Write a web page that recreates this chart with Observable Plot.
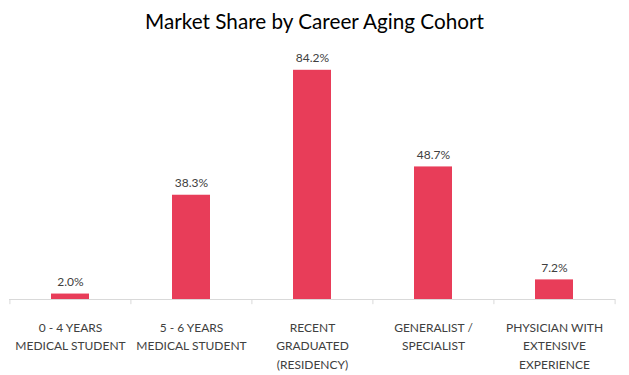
<!DOCTYPE html>
<html>
<head>
<meta charset="utf-8">
<script src="https://cdn.jsdelivr.net/npm/d3@7"></script>
<script src="https://cdn.jsdelivr.net/npm/@observablehq/plot@0.6"></script>
<style>
  html, body { margin: 0; padding: 0; background: #fff; }
  #wrap { width: 629px; height: 375px; overflow: hidden; font-family: Lato, "Open Sans", sans-serif; }
  #title { height: 42px; line-height: 42px; text-align: center; font-size: 20.7px; color: #000; }
</style>
</head>
<body>
<div id="wrap">
  <div id="title">Market Share by Career Aging Cohort</div>
  <div id="chart"></div>
</div>
<script>
const categories = [
  "0 - 4 YEARS\nMEDICAL STUDENT",
  "5 - 6 YEARS\nMEDICAL STUDENT",
  "RECENT\nGRADUATED\n(RESIDENCY)",
  "GENERALIST /\nSPECIALIST",
  "PHYSICIAN WITH\nEXTENSIVE\nEXPERIENCE"
];
const shares = [2.0, 38.3, 84.2, 48.7, 7.2];

const data = categories.map((c, i) => ({cat: c, value: shares[i]}));

const width = 629, height = 333;
const marginLeft = 9, marginRight = 14;
const band = (width - marginLeft - marginRight) / categories.length;

const chart = Plot.plot({
  width, height,
  marginTop: 12, marginBottom: 76, marginLeft, marginRight,
  style: {fontFamily: "Lato, 'Open Sans', sans-serif", fontSize: "12px", color: "#404040", background: "#fff"},
  x: {domain: categories, paddingInner: 0.69, paddingOuter: 0.345, axis: null},
  y: {domain: [0, 90], axis: null},
  marks: [
    Plot.barY(data, {x: "cat", y: "value", fill: "#E83D59"}),
    Plot.ruleY([0], {stroke: "#d9d9d9", strokeWidth: 1}),
    Plot.ruleX(data, {x: "cat", y1: 0, y2: -1.9, dx: -band / 2, stroke: "#d9d9d9"}),
    Plot.ruleX(data.slice(-1), {x: "cat", y1: 0, y2: -1.9, dx: band / 2, stroke: "#d9d9d9"}),
    Plot.text(data, {x: "cat", y: "value", text: d => d.value.toFixed(1) + "%", lineAnchor: "bottom", dy: -8, fill: "#404040", fontSize: 12}),
    Plot.text(data, {x: "cat", y: 0, text: "cat", lineAnchor: "top", dy: 19, lineHeight: 1.55, fill: "#404040", fontSize: 12})
  ]
});
document.getElementById("chart").appendChild(chart);
</script>
</body>
</html>
